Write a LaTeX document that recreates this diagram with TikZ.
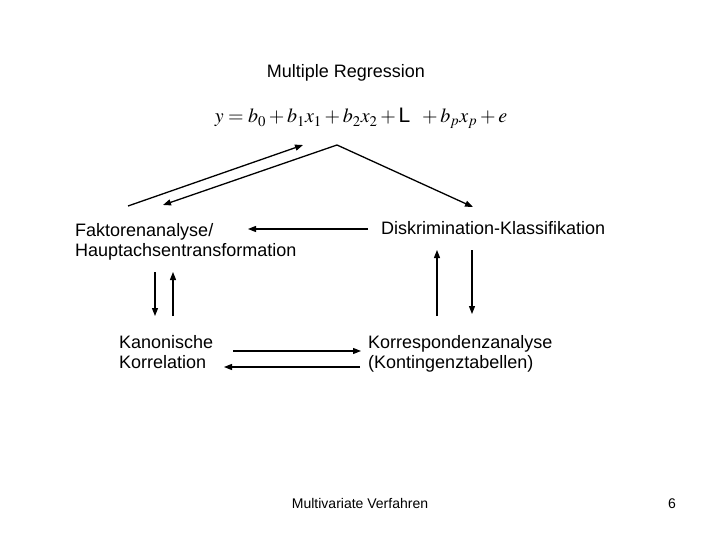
\documentclass[tikz,border=0pt]{standalone}
\usepackage{mathptmx}
\usepackage{fontspec}
\setmainfont{Liberation Sans}
\usetikzlibrary{calc,arrows.meta}

\begin{document}
\begin{tikzpicture}[x=1pt, y=-1pt,
  lbl/.style={inner sep=0pt, font=\fontsize{18}{20}\selectfont, align=left},
  arr/.style={line width=1.3pt, -{Triangle[length=8pt,width=6pt]}}]

% Page frame
\useasboundingbox (0,0) rectangle (720,540);

% Title and formula
\node[lbl, anchor=base] (mr) at (346,78) {Multiple Regression};
\node[inner sep=0pt, anchor=base] (eq) at (361,123)
  {\fontsize{20}{24}\selectfont $y = b_0 + b_1 x_1 + b_2 x_2 + \mbox{\fontsize{21}{21}\selectfont L}\;\; + b_p x_p + e$};

% Methods
\node[lbl, anchor=north west] (fa) at (75,223) {Faktorenanalyse/\\Hauptachsentransformation};
\node[lbl, anchor=base west] (dk) at (381,235) {Diskrimination-Klassifikation};
\node[lbl, anchor=north west] (kk) at (119,335) {Kanonische\\Korrelation};
\node[lbl, anchor=north west] (ko) at (368,335) {Korrespondenzanalyse\\(Kontingenztabellen)};

% Footer
\node[inner sep=0pt, anchor=base, font=\fontsize{14}{16}\selectfont] (ft) at (360,508) {Multivariate Verfahren};
\node[inner sep=0pt, anchor=base, font=\fontsize{14}{16}\selectfont] (pg) at (672,508) {6};

% Arrow end points
\coordinate (apex) at (337,145);
\coordinate (eqL) at (303,145);
\coordinate (fa1) at (128,206);
\coordinate (fa2) at (163,205);
\coordinate (dk1) at (473,207);

% Regression to methods
\draw[arr] (fa1) -- (eqL);
\draw[arr] (apex) -- (fa2);
\draw[arr] (apex) -- (dk1);

% Diskrimination to Faktorenanalyse
\draw[arr, line width=1.2pt] (368,229) -- (248,229);

% Vertical pairs
\draw[arr, line width=1.2pt] (155,272) -- (155,316);
\draw[arr, line width=1.2pt] (173,316) -- (173,272);
\draw[arr, line width=1.2pt] (437,316) -- (437,250);
\draw[arr, line width=1.2pt] (472,250) -- (472,314);

% Kanonische <-> Korrespondenz
\draw[arr, line width=1.2pt] (233,351) -- (361,351);
\draw[arr, line width=1.2pt] (360,367) -- (224,367);

\end{tikzpicture}
\end{document}
